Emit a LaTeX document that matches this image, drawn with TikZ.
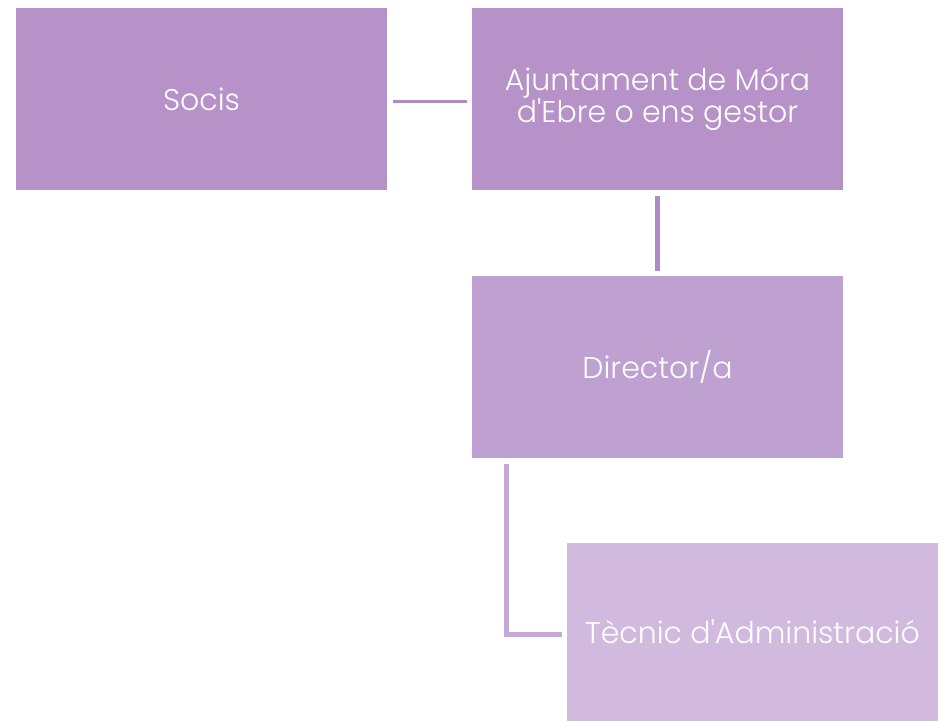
\documentclass[tikz,border=0pt]{standalone}
\usepackage{fontspec}
\setmainfont{Poppins}[UprightFont={* Light}]
\usepackage{xcolor}
\definecolor{lila}{HTML}{B692C8}
\definecolor{lilamig}{HTML}{BEA1D1}
\definecolor{lilaclar}{HTML}{D2BADF}
\definecolor{linia}{HTML}{B08AC6}
\definecolor{liniaclar}{HTML}{C5A8D6}

\begin{document}
\begin{tikzpicture}[x=1pt,y=-1pt,
  caixa/.style={fill=#1, draw=none, minimum width=371pt, minimum height=182pt,
    text=white, align=center, inner sep=0pt, font=\fontsize{30}{31}\selectfont},
  lligam/.style={draw=#1, shorten >=5pt, shorten <=6pt}]
  \useasboundingbox (0,0) rectangle (943,721);
  \node[caixa=lila] (socis) at (201.5,99) {Socis};
  \node[caixa=lila] (ajunt) at (657.5,99) {Ajuntament de Móra\\d\textquotesingle Ebre o ens gestor};
  \node[caixa=lilamig] (dir) at (657.5,367) {Director/a};
  \node[caixa=lilaclar, minimum height=178pt] (tec) at (752.5,632) {Tècnic d\textquotesingle Administració};

  \draw[lligam=linia, line width=3pt] ([yshift=-2pt]socis.east) -- ([yshift=-2pt]ajunt.west);
  \draw[lligam=linia, line width=5pt] (ajunt) -- (dir);
  \draw[lligam=liniaclar, line width=5pt] ([xshift=35pt]dir.south west) |- ([yshift=-2pt]tec.west);
\end{tikzpicture}
\end{document}
